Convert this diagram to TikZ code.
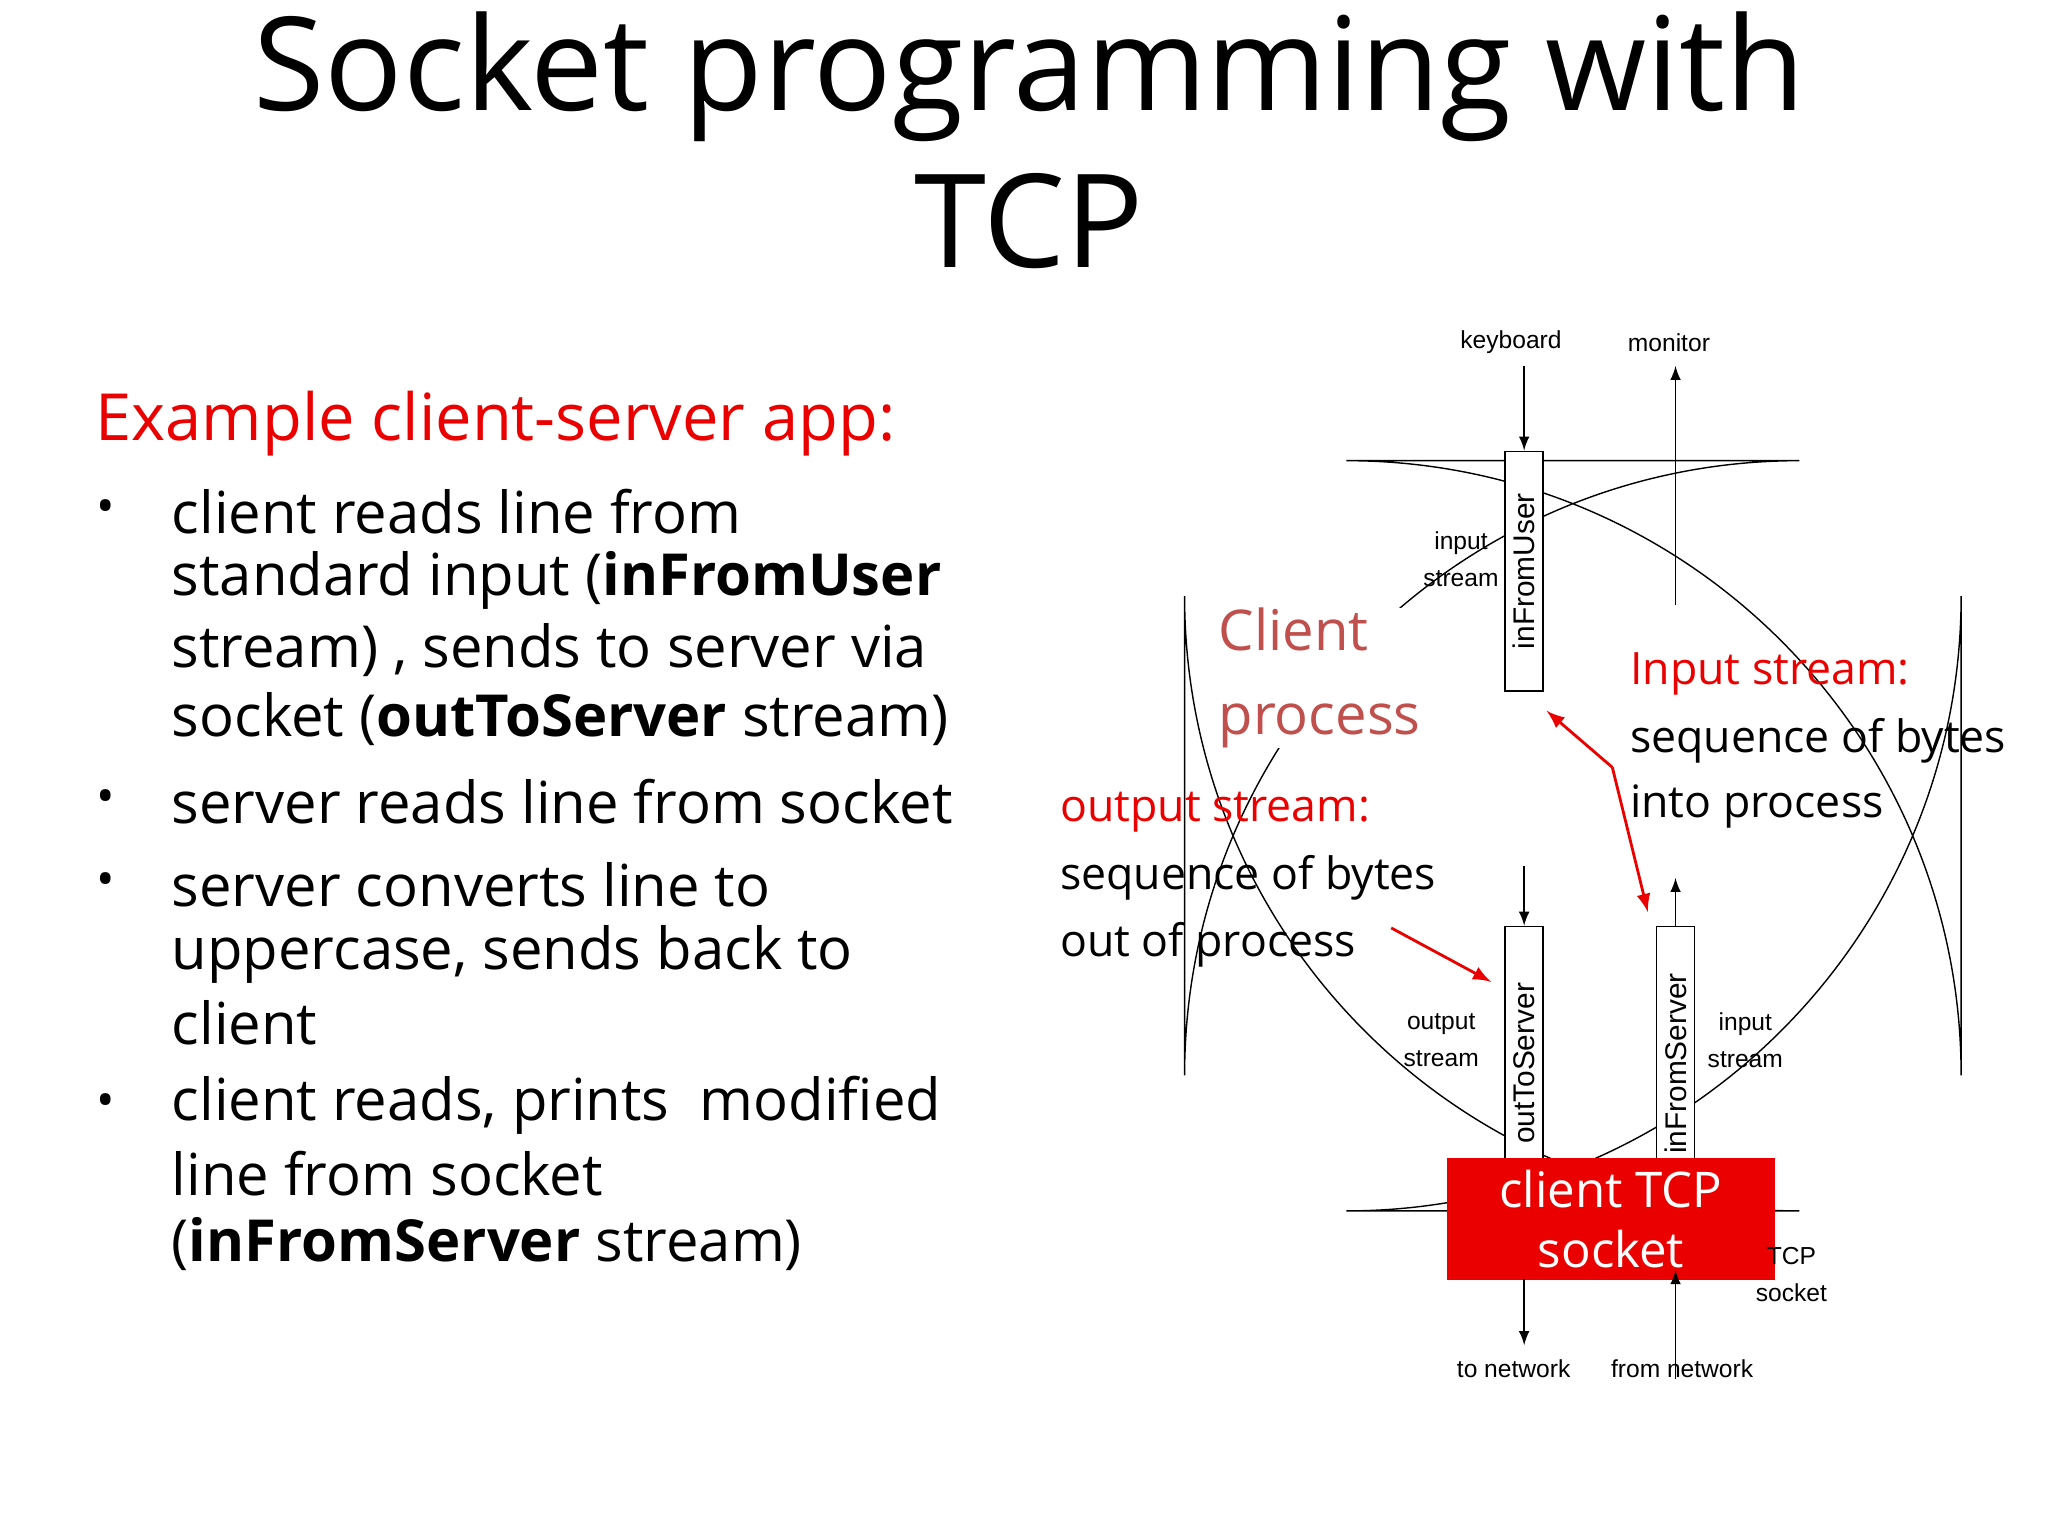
\documentclass[tikz,border=0pt]{standalone}
\usepackage{fontspec}
\setmainfont{Open Sans}
\newfontfamily\diag{Liberation Sans}
\begin{document}
\begin{tikzpicture}[x=0.013162cm,y=-0.013162cm,
 body/.style={anchor=west,inner sep=0,font=\fontsize{16.5}{19.5}\selectfont},
 red/.style={anchor=west,inner sep=0,text=rd,font=\fontsize{12.7}{15}\selectfont},
 blk/.style={anchor=west,inner sep=0,font=\fontsize{12.7}{15}\selectfont},
 lab/.style={inner sep=0,font=\diag\fontsize{7}{9.5}\selectfont,align=center},
 box/.style={draw,fill=white,minimum width=0.38cm,inner sep=0},
 arr/.style={-latex},
 rarr/.style={-latex,draw=rd,thick}]
\definecolor{rd}{RGB}{235,0,0}
\definecolor{cp}{RGB}{192,80,77}
\useasboundingbox (0,0) rectangle (1556,1167);
% title
\node[font=\fontsize{37}{44}\selectfont,inner sep=0] (t1) at (782,58) {Socket programming with};
\node[font=\fontsize{37}{44}\selectfont,inner sep=0] (t2) at (782,168) {TCP};
% left text
\node[anchor=west,inner sep=0,text=rd,font=\fontsize{18.5}{22}\selectfont] (h) at (72,322) {Example client-server app:};
\foreach \y in {389,609,672,840}{\node[inner sep=0,font=\fontsize{14}{16}\selectfont] at (80,\y) {•};}
\node[body] (l1) at (130,389) {client reads line from};
\node[body] (l2) at (130,441) {standard input (\textbf{inFromUser}};
\node[body] (l3) at (130,494) {stream) , sends to server via};
\node[body] (l4) at (130,546) {socket (\textbf{outToServer} stream)};
\node[body] (l5) at (130,609) {server reads line from socket};
\node[body] (l6) at (130,672) {server converts line to};
\node[body] (l7) at (130,725) {uppercase, sends back to};
\node[body] (l8) at (130,777) {client};
\node[body] (l9) at (130,840) {client reads, prints\ \ modified};
\node[body] (l10) at (130,892) {line from socket};
\node[body] (l11) at (130,945) {(\textbf{inFromServer} stream)};
% process outline
\draw[rounded corners=175] (1100,920) -- (900,920) -- (900,350) -- (1490,350) -- (1490,920) -- (1350,920);
\node[anchor=west,text=cp,font=\fontsize{16}{22}\selectfont,align=left,fill=white,inner xsep=2pt,inner ysep=0] (cproc) at (920,515) {Client\\[2pt]process};
% boxes
\node[box,minimum height=2.4cm] (ifu) at (1158,434) {};
\node[rotate=90,lab,font=\diag\fontsize{8.5}{10}\selectfont] at (ifu) {inFromUser};
\node[box,minimum height=2.4cm] (ots) at (1158,795) {};
\node[rotate=90,lab,font=\diag\fontsize{8.5}{10}\selectfont] at (1158,808) {outToServer};
\node[box,minimum height=2.4cm] (ifs) at (1273,795) {};
\node[rotate=90,lab,font=\diag\fontsize{8.5}{10}\selectfont] at (1273,808) {inFromServer};
\node[fill=rd,draw=rd,minimum width=3.26cm,minimum height=1.21cm,text=white,align=center,inner sep=0,font=\fontsize{14}{17}\selectfont] (sock) at (1224,926) {client TCP\\socket};
% labels
\node[lab] (kb) at (1148,260) {keyboard};
\node[lab] (mon) at (1268,260) {monitor};
\node[lab] (is1) at (1110,425) {input\\[1pt]stream};
\node[lab] (os) at (1095,790) {output\\[1pt]stream};
\node[lab] (is2) at (1326,790) {input\\[1pt]stream};
\node[lab] (tcp) at (1361,968) {TCP\\[1pt]socket};
\node[lab] (tn) at (1150,1040) {to network};
\node[lab] (fn) at (1278,1040) {from network};
% arrows
\coordinate (kbo) at (1158,278);
\draw[arr] (kbo) -- (ifu.north);
\coordinate (ms) at (1273,460); \coordinate (me) at (1273,278);
\draw[arr] (ms) -- (me);
\coordinate (o1) at (1158,658);
\draw[arr] (o1) -- (ots.north);
\coordinate (i1) at (1273,667);
\draw[arr] (ifs.north) -- (i1);
\coordinate (tnp) at (1158,1022);
\draw[arr] (1158,972) -- (tnp);
\coordinate (fnp) at (1273,1048);
\draw[arr] (fnp) -- (1273,965);
% red annotations
\node[red] (ish) at (1238,512) {Input stream:};
\node[blk] (isb1) at (1238,563) {sequence of bytes};
\node[blk] (isb2) at (1238,613) {into process};
\node[red] (osh) at (805,617) {output stream:};
\node[blk] (osb1) at (805,667) {sequence of bytes};
\node[blk] (osb2) at (805,718) {out of process};
\coordinate (ra) at (1057,705); \coordinate (rb) at (1133,746);
\draw[rarr] (ra) -- (rb);
\coordinate (rc) at (1225,583); \coordinate (rd1) at (1175,540); \coordinate (re) at (1252,693);
\draw[rarr] (rc) -- (rd1);
\draw[rarr] (rc) -- (re);
\end{tikzpicture}
\end{document}
